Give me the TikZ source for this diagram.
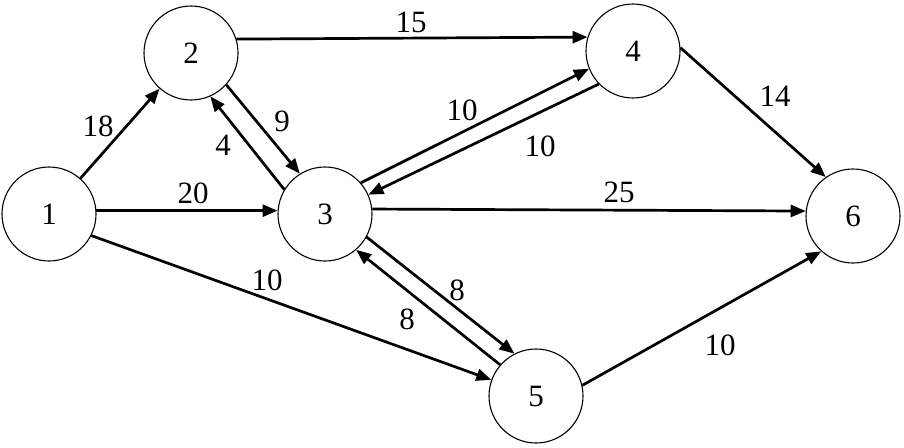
\documentclass[tikz,border=0pt]{standalone}
\usepackage{fontspec}
\setmainfont{Liberation Serif}
\usetikzlibrary{arrows.meta}

\begin{document}
\begin{tikzpicture}[x=1pt, y=-1pt,
        vertex/.style={circle, draw, line width=1.1pt, minimum size=94pt, inner sep=0pt, font=\fontsize{31}{36}\selectfont},
        arc/.style={-{Triangle[length=15pt,width=12pt]}, line width=2.7pt},
        weight/.style={inner sep=0pt, font=\fontsize{31}{36}\selectfont}
    ]
    \useasboundingbox (0,0) rectangle (904,447);

    % vertices
    \node[vertex] (n1) at (49,214) {1};
    \node[vertex] (n2) at (191,53) {2};
    \node[vertex] (n3) at (325,214) {3};
    \node[vertex] (n4) at (633,51) {4};
    \node[vertex] (n5) at (536,396) {5};
    \node[vertex] (n6) at (853,216) {6};

    % arcs
    \draw[arc] (n1) -- (n2);
    \draw[arc] (n1.4) -- (n3.176);
    \draw[arc] (n1.-27) -- (n5);
    \draw[arc] (n2.17) -- (n4.163);
    \draw[arc] (n2.-42) -- (n3.122);
    \draw[arc] (n3.149) -- (n2.-66);
    \draw[arc] (n3.41) -- (n4.202);
    \draw[arc] (n4.224) -- (n3.24);
    \draw[arc] (n3.6) -- (n6.174);
    \draw[arc] (n3.-29) -- (n5.117);
    \draw[arc] (n5.139) -- (n3.-49);
    \draw[arc] (n4.4) -- (n6.125);
    \draw[arc] (n5.13) -- (n6.228);

    % weights
    \node[weight] (w12) at (98,126) {18};
    \node[weight] (w13) at (193,193) {20};
    \node[weight] (w15) at (267,280) {10};
    \node[weight] (w24) at (411,22) {15};
    \node[weight] (w23) at (282,121) {9};
    \node[weight] (w32) at (223,145) {4};
    \node[weight] (w34) at (462,110) {10};
    \node[weight] (w43) at (540,146) {10};
    \node[weight] (w36) at (619,192) {25};
    \node[weight] (w35) at (457,290) {8};
    \node[weight] (w53) at (407,319) {8};
    \node[weight] (w46) at (775,96) {14};
    \node[weight] (w56) at (720,345) {10};
\end{tikzpicture}
\end{document}
